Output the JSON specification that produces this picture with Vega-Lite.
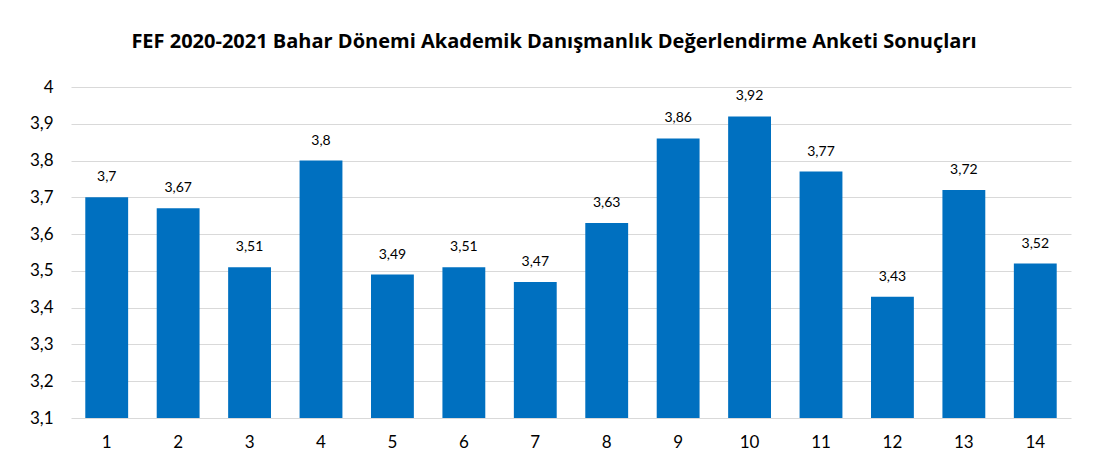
{
  "$schema": "https://vega.github.io/schema/vega-lite/v6.json",
  "autosize": "none",
  "width": 1000,
  "height": 331,
  "padding": {"left": 71, "top": 87, "right": 23, "bottom": 57},
  "background": "white",
  "config": {
    "font": "Lato",
    "view": {"stroke": null},
    "locale": {"number": {"decimal": ",", "thousands": ".", "grouping": [3], "currency": ["", " TL"]}}
  },
  "title": {
    "text": "FEF 2020-2021 Bahar Dönemi Akademik Danışmanlık Değerlendirme Anketi Sonuçları",
    "font": "Open Sans",
    "fontSize": 20,
    "fontWeight": "bold",
    "color": "#000000",
    "anchor": "middle",
    "dx": -17,
    "offset": 26
  },
  "data": {
    "values": [
      {"q": 1, "v": 3.7},
      {"q": 2, "v": 3.67},
      {"q": 3, "v": 3.51},
      {"q": 4, "v": 3.8},
      {"q": 5, "v": 3.49},
      {"q": 6, "v": 3.51},
      {"q": 7, "v": 3.47},
      {"q": 8, "v": 3.63},
      {"q": 9, "v": 3.86},
      {"q": 10, "v": 3.92},
      {"q": 11, "v": 3.77},
      {"q": 12, "v": 3.43},
      {"q": 13, "v": 3.72},
      {"q": 14, "v": 3.52}
    ]
  },
  "encoding": {
    "x": {
      "field": "q",
      "type": "ordinal",
      "scale": {"paddingInner": 0.4, "paddingOuter": 0.2},
      "axis": {
        "title": null,
        "labelAngle": 0,
        "labelFontSize": 17,
        "labelColor": "#000000",
        "labelPadding": 16,
        "domain": false,
        "ticks": false
      }
    },
    "y": {
      "field": "v",
      "type": "quantitative",
      "scale": {"domain": [3.1, 4], "nice": false, "zero": false},
      "axis": {
        "title": null,
        "values": [3.1, 3.2, 3.3, 3.4, 3.5, 3.6, 3.7, 3.8, 3.9, 4],
        "format": ".1~f",
        "labelFontSize": 17,
        "labelColor": "#000000",
        "labelPadding": 18,
        "domain": false,
        "ticks": false,
        "grid": true,
        "gridColor": "#d9d9d9",
        "gridWidth": 1
      }
    }
  },
  "layer": [
    {
      "mark": {"type": "bar", "color": "#0070C0"},
      "encoding": {"y2": {"datum": 3.1}}
    },
    {
      "mark": {"type": "text", "baseline": "bottom", "dy": -13, "fontSize": 14, "color": "#000000"},
      "encoding": {"text": {"field": "v", "type": "quantitative", "format": ".2~f"}}
    }
  ]
}
